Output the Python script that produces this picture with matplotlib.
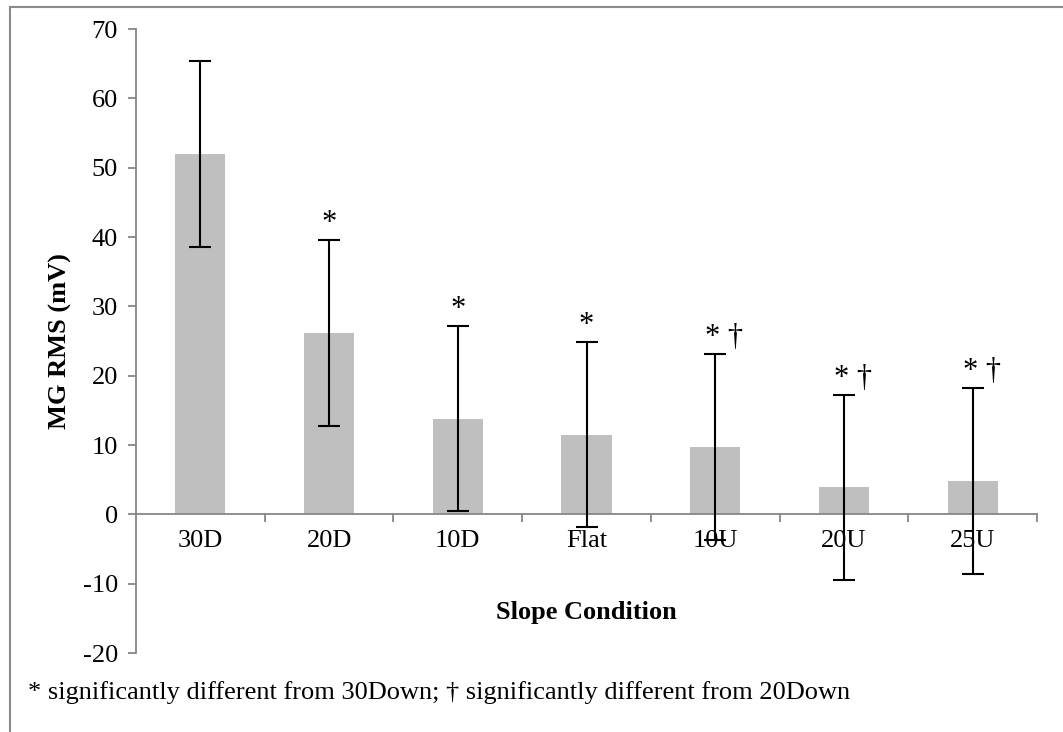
import matplotlib
matplotlib.use("Agg")
import matplotlib.pyplot as plt
from matplotlib.lines import Line2D
from matplotlib.ticker import FixedLocator, NullFormatter

plt.rcParams['font.family'] = ['Liberation Serif', 'DejaVu Serif']
plt.rcParams['axes.unicode_minus'] = False

# Mean MG RMS per slope condition with SD error bars
conditions = ["30D", "20D", "10D", "Flat", "10U", "20U", "25U"]
mean_rms = [52.0, 26.2, 13.8, 11.5, 9.7, 3.9, 4.8]
sd_rms = [13.4, 13.4, 13.3, 13.3, 13.4, 13.3, 13.4]
significance = ["", "*", "*", "*", "* \u2020", "* \u2020", "* \u2020"]
y_ticks = [-20, -10, 0, 10, 20, 30, 40, 50, 60, 70]

W, H = 1063, 732
fig = plt.figure(figsize=(W / 100, H / 100), dpi=100)
ax = fig.add_axes([136 / W, 79 / H, (1037 - 136) / W, (653 - 29) / H])

x = list(range(len(conditions)))
ax.bar(x, mean_rms, width=0.39, color="#bfbfbf", zorder=2)
ax.errorbar(x, mean_rms, yerr=sd_rms, fmt="none", ecolor="black",
            elinewidth=1.5, capsize=8, capthick=1.5, zorder=3)

for xi, m, s, sig in zip(x, mean_rms, sd_rms, significance):
    if sig:
        ax.text(xi + (0.07 if len(sig) > 1 else 0.0), m + s + 0.3, sig,
                ha="center", va="bottom", fontsize=22, zorder=4)

ax.set_xlim(-0.5, len(conditions) - 0.5)
ax.set_ylim(-20, 70)
ax.set_yticks(y_ticks)

spine_color = "#868686"
for side in ("top", "right"):
    ax.spines[side].set_visible(False)
ax.spines["left"].set_color(spine_color)
ax.spines["left"].set_linewidth(1.3)
ax.spines["bottom"].set_position(("data", 0))
ax.spines["bottom"].set_color(spine_color)
ax.spines["bottom"].set_linewidth(1.3)

# Category boundaries carry the tick marks; names sit at the centres
ax.xaxis.set_major_locator(FixedLocator([i + 0.5 for i in x]))
ax.xaxis.set_major_formatter(NullFormatter())
ax.xaxis.set_minor_locator(FixedLocator(x))
ax.set_xticklabels(conditions, minor=True)
ax.tick_params(axis="x", which="major", direction="out", length=6,
               width=1.3, color=spine_color)
ax.tick_params(axis="x", which="minor", length=0, pad=11, labelsize=19)
ax.tick_params(axis="y", direction="out", length=6, width=1.3,
               color=spine_color, labelsize=19, pad=7)

fig.text(60 / W, 1 - 341 / H, "MG RMS (mV)", rotation=90, ha="center",
         va="center", fontsize=19, fontweight="bold")
fig.text(586 / W, 1 - 612 / H, "Slope Condition", ha="center",
         va="center", fontsize=19, fontweight="bold")
fig.text(28 / W, 1 - 693 / H,
         "* significantly different from 30Down; \u2020 significantly different from 20Down",
         ha="left", va="center", fontsize=19)

# Outer frame: top and left edges only
fig.add_artist(Line2D([10 / W, 1.0], [1 - 7 / H, 1 - 7 / H],
                      transform=fig.transFigure, color="#8a8a8a", linewidth=1.5))
fig.add_artist(Line2D([10 / W, 10 / W], [0.0, 1 - 7 / H],
                      transform=fig.transFigure, color="#8a8a8a", linewidth=1.5))

fig.savefig("out.png", dpi=100)
